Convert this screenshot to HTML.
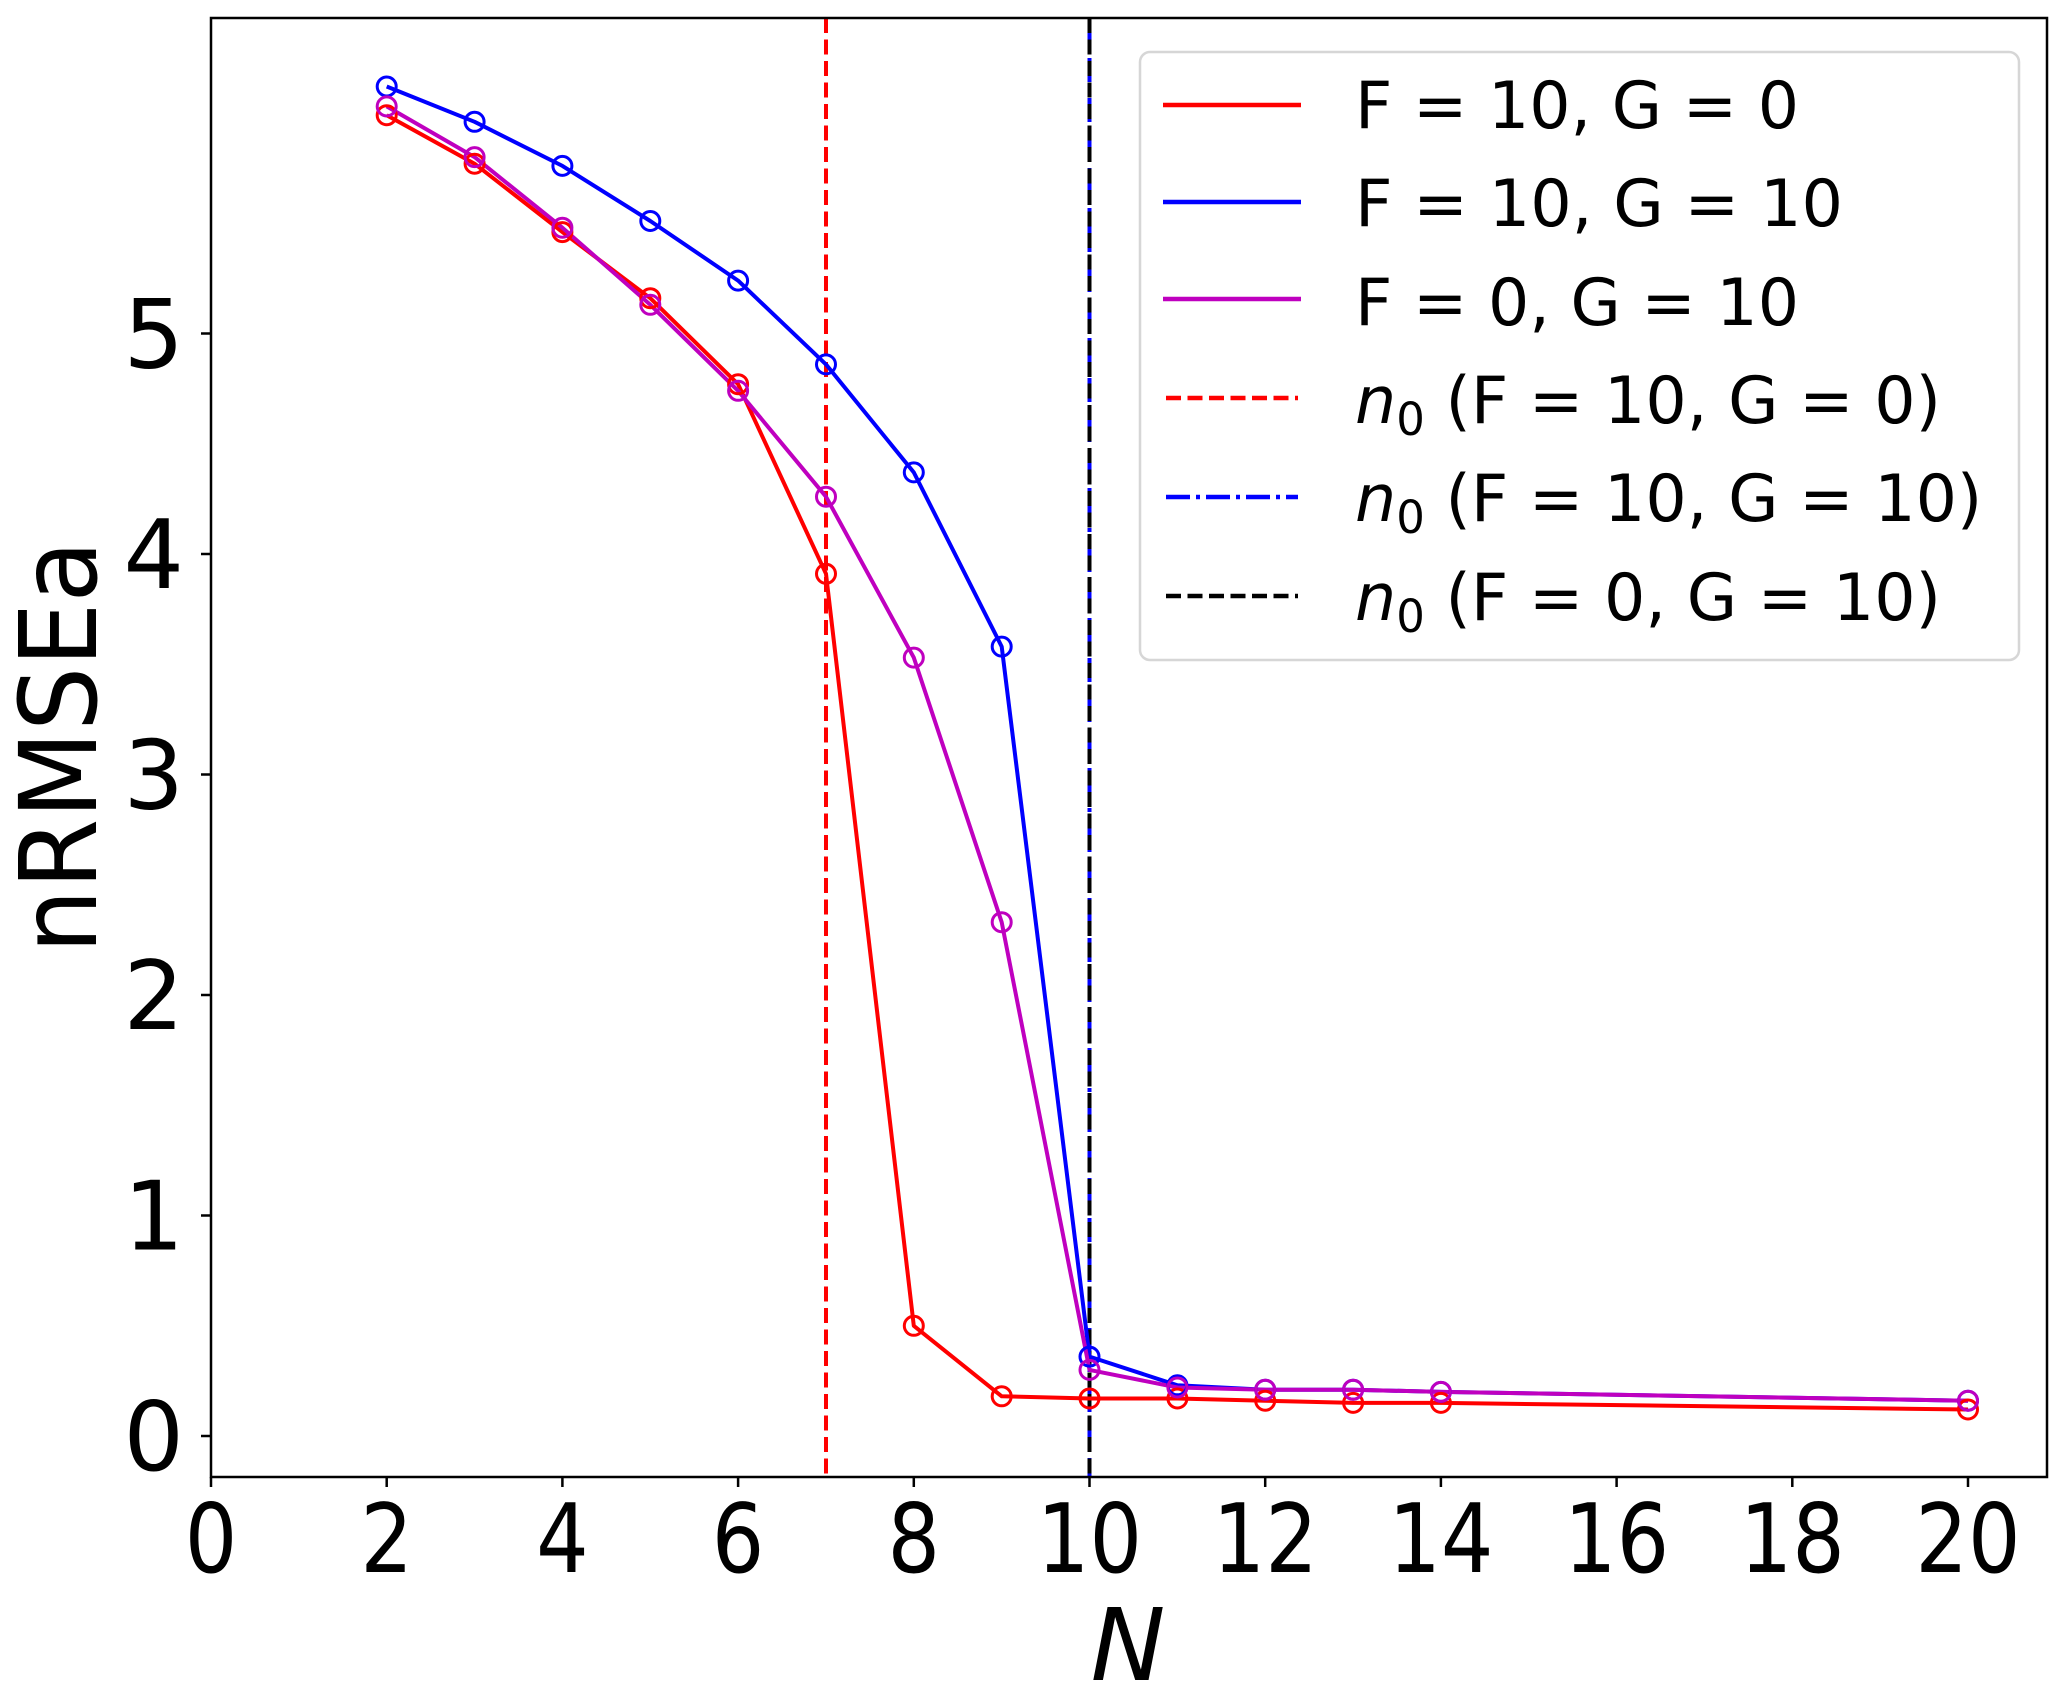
<!DOCTYPE html>
<html><head><meta charset="utf-8"><style>html,body{margin:0;padding:0;background:#fff}svg{display:block}</style></head>
<body>
<svg xmlns="http://www.w3.org/2000/svg" width="2067" height="1698" viewBox="0 0 2067 1698" font-family="'DejaVu Sans','Liberation Sans',sans-serif">
<rect width="2067" height="1698" fill="#fff"/>
<defs><clipPath id="c"><rect x="211" y="18" width="1836" height="1459"/></clipPath></defs>
<g clip-path="url(#c)">
<line x1="826" y1="18" x2="826" y2="1477" stroke="#ff0000" stroke-width="4" stroke-dasharray="15,6.5"/>
<line x1="1089.5" y1="18" x2="1089.5" y2="1477" stroke="#0000ff" stroke-width="4" stroke-dasharray="24,6,4,6"/>
<line x1="1089.5" y1="18" x2="1089.5" y2="1477" stroke="#000" stroke-width="4" stroke-dasharray="15,6.5"/>
<g fill="none" stroke-width="4" stroke-linejoin="round">
<polyline stroke="#ff0000" points="386.7,115.2 474.6,163.7 562.4,232.1 650.3,298.2 738.1,384.2 826,573.8 913.8,1325.8 1001.7,1396.3 1089.5,1398.5 1177.4,1398.5 1265.2,1400.7 1353.1,1402.9 1440.9,1402.9 1968,1409.5"/>
<polyline stroke="#0000ff" points="386.7,86.5 474.6,121.8 562.4,165.9 650.3,221 738.1,280.6 826,364.4 913.8,472.4 1001.7,646.6 1089.5,1356.6 1177.4,1385.3 1265.2,1389.7 1353.1,1389.7 1440.9,1391.9 1968,1400.7"/>
<polyline stroke="#bf00bf" points="386.7,106.4 474.6,157.1 562.4,227.7 650.3,304.8 738.1,390.8 826,496.7 913.8,657.6 1001.7,922.2 1089.5,1369.9 1177.4,1387.5 1265.2,1389.7 1353.1,1389.7 1440.9,1391.9 1968,1400.7"/>
</g>
<g fill="none" stroke-width="3">
<g stroke="#ff0000">
<circle cx="386.7" cy="115.2" r="9.5"/><circle cx="474.6" cy="163.7" r="9.5"/><circle cx="562.4" cy="232.1" r="9.5"/><circle cx="650.3" cy="298.2" r="9.5"/><circle cx="738.1" cy="384.2" r="9.5"/><circle cx="826" cy="573.8" r="9.5"/><circle cx="913.8" cy="1325.8" r="9.5"/><circle cx="1001.7" cy="1396.3" r="9.5"/><circle cx="1089.5" cy="1398.5" r="9.5"/><circle cx="1177.4" cy="1398.5" r="9.5"/><circle cx="1265.2" cy="1400.7" r="9.5"/><circle cx="1353.1" cy="1402.9" r="9.5"/><circle cx="1440.9" cy="1402.9" r="9.5"/><circle cx="1968" cy="1409.5" r="9.5"/>
</g>
<g stroke="#0000ff">
<circle cx="386.7" cy="86.5" r="9.5"/><circle cx="474.6" cy="121.8" r="9.5"/><circle cx="562.4" cy="165.9" r="9.5"/><circle cx="650.3" cy="221" r="9.5"/><circle cx="738.1" cy="280.6" r="9.5"/><circle cx="826" cy="364.4" r="9.5"/><circle cx="913.8" cy="472.4" r="9.5"/><circle cx="1001.7" cy="646.6" r="9.5"/><circle cx="1089.5" cy="1356.6" r="9.5"/><circle cx="1177.4" cy="1385.3" r="9.5"/><circle cx="1265.2" cy="1389.7" r="9.5"/><circle cx="1353.1" cy="1389.7" r="9.5"/><circle cx="1440.9" cy="1391.9" r="9.5"/><circle cx="1968" cy="1400.7" r="9.5"/>
</g>
<g stroke="#bf00bf">
<circle cx="386.7" cy="106.4" r="9.5"/><circle cx="474.6" cy="157.1" r="9.5"/><circle cx="562.4" cy="227.7" r="9.5"/><circle cx="650.3" cy="304.8" r="9.5"/><circle cx="738.1" cy="390.8" r="9.5"/><circle cx="826" cy="496.7" r="9.5"/><circle cx="913.8" cy="657.6" r="9.5"/><circle cx="1001.7" cy="922.2" r="9.5"/><circle cx="1089.5" cy="1369.9" r="9.5"/><circle cx="1177.4" cy="1387.5" r="9.5"/><circle cx="1265.2" cy="1389.7" r="9.5"/><circle cx="1353.1" cy="1389.7" r="9.5"/><circle cx="1440.9" cy="1391.9" r="9.5"/><circle cx="1968" cy="1400.7" r="9.5"/>
</g>
</g>
</g>
<rect x="211" y="18" width="1836" height="1459" fill="none" stroke="#000" stroke-width="2.5"/>
<g stroke="#000" stroke-width="2.5">
<line x1="201" y1="1436" x2="211" y2="1436"/><line x1="201" y1="1215.5" x2="211" y2="1215.5"/><line x1="201" y1="995" x2="211" y2="995"/><line x1="201" y1="774.5" x2="211" y2="774.5"/><line x1="201" y1="554" x2="211" y2="554"/><line x1="201" y1="333.5" x2="211" y2="333.5"/>
<line x1="211" y1="1477" x2="211" y2="1487"/><line x1="386.7" y1="1477" x2="386.7" y2="1487"/><line x1="562.4" y1="1477" x2="562.4" y2="1487"/><line x1="738.1" y1="1477" x2="738.1" y2="1487"/><line x1="913.8" y1="1477" x2="913.8" y2="1487"/><line x1="1089.5" y1="1477" x2="1089.5" y2="1487"/><line x1="1265.2" y1="1477" x2="1265.2" y2="1487"/><line x1="1440.9" y1="1477" x2="1440.9" y2="1487"/><line x1="1616.6" y1="1477" x2="1616.6" y2="1487"/><line x1="1792.3" y1="1477" x2="1792.3" y2="1487"/><line x1="1968" y1="1477" x2="1968" y2="1487"/>
</g>
<g font-size="95" fill="#000" text-anchor="end">
<text x="184" y="1470">0</text><text x="184" y="1249.5">1</text><text x="184" y="1029">2</text><text x="184" y="808.5">3</text><text x="184" y="588">4</text><text x="184" y="367.5">5</text>
</g>
<g font-size="95" fill="#000" text-anchor="middle">
<text x="211" y="1572" transform="translate(211 0) scale(0.87 1) translate(-211 0)">0</text>
<text x="386.7" y="1572" transform="translate(386.7 0) scale(0.87 1) translate(-386.7 0)">2</text>
<text x="562.4" y="1572" transform="translate(562.4 0) scale(0.87 1) translate(-562.4 0)">4</text>
<text x="738.1" y="1572" transform="translate(738.1 0) scale(0.87 1) translate(-738.1 0)">6</text>
<text x="913.8" y="1572" transform="translate(913.8 0) scale(0.87 1) translate(-913.8 0)">8</text>
<text x="1089.5" y="1572" transform="translate(1089.5 0) scale(0.87 1) translate(-1089.5 0)">10</text>
<text x="1265.2" y="1572" transform="translate(1265.2 0) scale(0.87 1) translate(-1265.2 0)">12</text>
<text x="1440.9" y="1572" transform="translate(1440.9 0) scale(0.87 1) translate(-1440.9 0)">14</text>
<text x="1616.6" y="1572" transform="translate(1616.6 0) scale(0.87 1) translate(-1616.6 0)">16</text>
<text x="1792.3" y="1572" transform="translate(1792.3 0) scale(0.87 1) translate(-1792.3 0)">18</text>
<text x="1968" y="1572" transform="translate(1968 0) scale(0.87 1) translate(-1968 0)">20</text>
</g>
<text x="1128" y="1680" font-size="100" font-style="italic" text-anchor="middle">N</text>
<text transform="translate(96 747) rotate(-90)" font-size="107" text-anchor="middle" textLength="413" lengthAdjust="spacingAndGlyphs">nRMSEa</text>
<rect x="1140" y="52" width="879" height="608" rx="10" fill="#fff" fill-opacity="0.8" stroke="#d6d6d6" stroke-width="2.5"/>
<g stroke-width="4.5">
<line x1="1163" y1="105" x2="1301" y2="105" stroke="#ff0000"/>
<line x1="1163" y1="202" x2="1301" y2="202" stroke="#0000ff"/>
<line x1="1163" y1="299" x2="1301" y2="299" stroke="#bf00bf"/>
<line x1="1166" y1="398" x2="1298" y2="398" stroke="#ff0000" stroke-dasharray="15,6.5"/>
<line x1="1166" y1="497" x2="1298" y2="497" stroke="#0000ff" stroke-dasharray="24,6,4,6"/>
<line x1="1166" y1="596" x2="1298" y2="596" stroke="#000" stroke-dasharray="15,6.5"/>
</g>
<g font-size="65" fill="#000">
<text x="1355" y="128" textLength="444" lengthAdjust="spacingAndGlyphs">F = 10, G = 0</text>
<text x="1355" y="226" textLength="488" lengthAdjust="spacingAndGlyphs">F = 10, G = 10</text>
<text x="1355" y="325" textLength="444" lengthAdjust="spacingAndGlyphs">F = 0, G = 10</text>
<text x="1355" y="423"><tspan font-style="italic">n</tspan><tspan font-size="45" dy="12">0</tspan><tspan dy="-12"> (F = 10, G = 0)</tspan></text>
<text x="1355" y="521"><tspan font-style="italic">n</tspan><tspan font-size="45" dy="12">0</tspan><tspan dy="-12"> (F = 10, G = 10)</tspan></text>
<text x="1355" y="620"><tspan font-style="italic">n</tspan><tspan font-size="45" dy="12">0</tspan><tspan dy="-12"> (F = 0, G = 10)</tspan></text>
</g>
</svg>
</body></html>
